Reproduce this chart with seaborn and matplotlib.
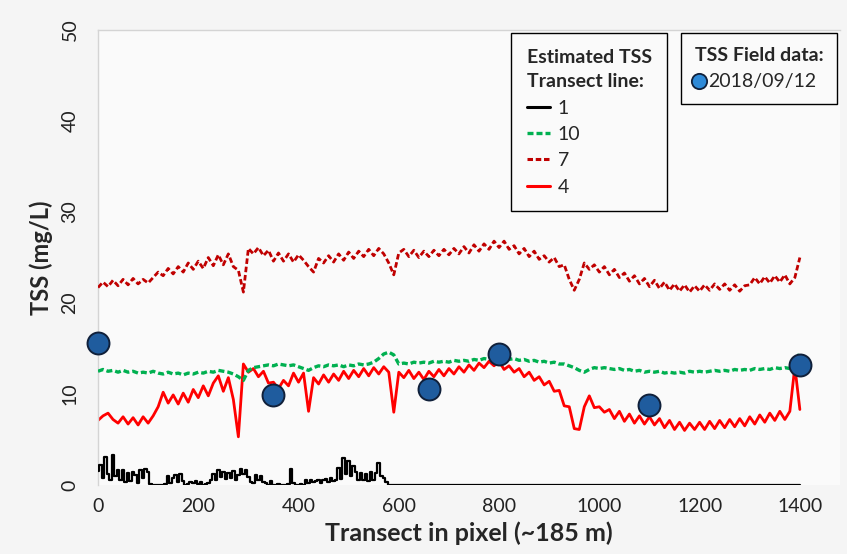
import matplotlib
matplotlib.use("Agg")
import matplotlib.pyplot as plt
import seaborn as sns
import numpy as np
import pandas as pd
from matplotlib.lines import Line2D

# ---------------- data ----------------
x_main = list(range(0, 1401, 10))

tss_line7 = [
    21.7, 22.3, 21.8, 22.5, 21.9, 22.6, 22.0, 22.7, 22.1, 22.6,
    22.2, 22.8, 23.4, 23.0, 23.8, 23.2, 24.0, 23.4, 24.4, 23.7,
    24.6, 23.8, 25.0, 24.1, 25.3, 24.2, 25.4, 24.0, 23.6, 21.2,
    26.0, 25.4, 26.1, 25.2, 25.8, 24.6, 25.5, 24.6, 25.4, 24.5,
    25.3, 24.7, 24.0, 23.4, 24.9, 24.4, 25.2, 24.5, 25.4, 24.7,
    25.6, 24.9, 25.7, 25.1, 25.9, 25.2, 26.0, 25.4, 24.4, 23.1,
    25.5, 25.9, 25.1, 25.8, 25.0, 25.7, 25.1, 25.8, 25.2, 25.9,
    25.3, 26.0, 25.4, 26.2, 25.5, 26.4, 25.7, 26.5, 25.9, 26.8,
    26.1, 26.8, 25.9, 26.3, 25.4, 26.0, 25.1, 25.7, 24.8, 25.2,
    24.5, 25.0, 24.0, 24.2, 22.6, 21.4, 22.6, 24.4, 23.7, 24.2,
    23.4, 24.0, 23.1, 23.7, 22.8, 23.3, 22.4, 23.0, 22.1, 22.7,
    21.8, 22.5, 21.6, 22.3, 21.4, 22.1, 21.3, 22.0, 21.2, 21.9,
    21.3, 22.0, 21.4, 22.1, 21.5, 22.1, 21.4, 22.0, 21.3, 21.9,
    22.0, 22.8, 22.1, 22.9, 22.2, 23.0, 22.3, 23.1, 22.1, 22.8,
    25.0,
]

tss_line10 = [
    12.5, 12.7, 12.5, 12.6, 12.4, 12.6, 12.4, 12.5, 12.3, 12.4,
    12.3, 12.5, 12.3, 12.2, 12.4, 12.2, 12.3, 12.1, 12.3, 12.2,
    12.4, 12.3, 12.5, 12.4, 12.6, 12.5, 12.4, 12.2, 11.9, 11.5,
    12.6, 12.9, 13.0, 13.1, 13.2, 13.1, 13.3, 13.2, 13.1, 13.2,
    13.0, 12.8, 12.6, 12.9, 13.1, 13.0, 13.2, 13.1, 13.2, 13.0,
    13.2, 13.1, 13.3, 13.2, 13.3, 13.5, 13.9, 14.4, 14.6, 14.3,
    13.3, 13.4, 13.3, 13.5, 13.4, 13.5, 13.4, 13.6, 13.5, 13.6,
    13.5, 13.7, 13.6, 13.7, 13.6, 13.8, 13.7, 13.9, 13.8, 14.0,
    13.9, 14.0, 13.8, 13.9, 13.7, 13.8, 13.6, 13.7, 13.5, 13.6,
    13.4, 13.5, 13.3, 13.3, 13.1, 12.9, 12.6, 12.4, 12.7, 12.9,
    12.8, 12.9, 12.8, 12.7, 12.8, 12.6, 12.7, 12.5, 12.6, 12.4,
    12.5, 12.4, 12.5, 12.3, 12.4, 12.3, 12.4, 12.3, 12.5, 12.4,
    12.5, 12.4, 12.5, 12.6, 12.5, 12.6, 12.5, 12.7, 12.6, 12.7,
    12.6, 12.8, 12.7, 12.8, 12.7, 12.9, 12.8, 12.9, 12.8, 13.0,
    14.6,
]

tss_line4 = [
    7.1, 7.6, 7.9, 7.2, 6.8, 7.5, 6.7, 7.4, 6.6, 7.5,
    6.8, 7.6, 8.6, 10.2, 9.0, 9.9, 8.9, 10.1, 9.1, 10.5,
    9.6, 10.9, 9.8, 11.2, 12.0, 10.3, 11.8, 9.4, 5.3, 13.3,
    12.4, 12.8, 11.9, 12.5, 11.2, 11.3, 10.6, 11.5, 10.9, 12.3,
    11.3, 12.3, 8.1, 11.8, 11.1, 12.1, 11.3, 12.2, 11.5, 12.5,
    11.7, 12.6, 11.9, 12.8, 12.0, 12.9, 12.2, 13.0, 12.4, 8.0,
    12.4, 11.8, 12.6, 11.7, 12.4, 11.6, 12.5, 11.9, 12.7, 12.0,
    12.8, 12.2, 13.0, 12.4, 13.2, 12.6, 13.4, 12.9, 13.6, 13.1,
    13.6, 12.7, 13.1, 12.4, 12.8, 11.9, 12.4, 11.5, 11.9, 11.0,
    11.4, 10.3, 10.4, 8.7, 8.6, 6.2, 6.1, 8.6, 9.8, 8.5,
    8.6, 8.0, 8.3, 7.3, 8.1, 7.0, 7.8, 6.8, 7.6, 6.7,
    7.5, 6.6, 7.3, 6.3, 7.1, 6.1, 6.9, 6.0, 6.8, 6.1,
    6.9, 6.1, 7.0, 6.2, 7.1, 6.3, 7.2, 6.4, 7.3, 6.5,
    7.5, 6.7, 7.7, 6.9, 7.9, 7.1, 8.1, 7.2, 8.1, 13.0,
    8.3,
]

x_line1 = list(range(0, 581, 5)) + [1400]
tss_line1 = [
    1.5, 2.2, 0.8, 3.1, 1.2, 0.5, 3.3, 1.0, 1.7, 0.6,
    1.6, 0.3, 1.3, 0.4, 1.4, 1.1, 0.2, 1.7, 0.8, 1.8,
    1.4, 0.1, 0.0, 0.0, 0.0, 0.0, 0.0, 0.1, 1.0, 0.2,
    0.8, 1.1, 0.3, 1.2, 0.4, 0.0, 0.1, 0.3, 0.2, 0.4,
    0.1, 0.3, 0.0, 0.1, 0.2, 0.6, 1.2, 0.5, 1.6, 0.9,
    1.4, 0.7, 1.3, 0.8, 1.5, 0.6, 1.1, 1.8, 1.2, 1.7,
    0.9, 0.3, 0.2, 1.1, 0.5, 1.0, 0.3, 0.2, 0.0, 0.4,
    0.0, 0.0, 0.1, 0.0, 0.0, 0.0, 0.1, 1.8, 0.2, 0.0,
    0.0, 0.1, 0.0, 0.5, 0.2, 0.5, 0.3, 0.4, 0.6, 0.2,
    0.5, 0.7, 0.3, 0.8, 0.4, 0.6, 1.9, 0.7, 3.0, 1.2,
    2.6, 1.0, 2.1, 1.4, 0.6, 1.3, 0.5, 1.2, 0.4, 1.4,
    0.6, 1.3, 2.4, 1.0, 0.8, 0.3, 0.0,
    0.0,
]

field_x = [0, 350, 660, 800, 1100, 1400]
field_tss = [15.6, 9.9, 10.6, 14.4, 8.8, 13.2]

x_ticks = [0, 200, 400, 600, 800, 1000, 1200, 1400]
y_ticks = [0, 10, 20, 30, 40, 50]

# ---------------- style ----------------
sns.set_theme(style="white")
plt.rcParams["font.family"] = ["Lato", "DejaVu Sans"]

fig = plt.figure(figsize=(8.47, 5.54), dpi=100, facecolor="#f5f5f5")
ax = fig.add_axes([0.1157, 0.1245, 0.876, 0.8213])
ax.set_facecolor("#fafafa")

c_red = "#ff0000"
c_dark = "#c00000"
c_green = "#00b050"

sns.lineplot(x=x_main, y=tss_line4, ax=ax, color=c_red, linewidth=2.0, zorder=2)
sns.lineplot(x=x_main, y=tss_line7, ax=ax, color=c_dark, linewidth=2.0, zorder=3)
ax.lines[-1].set_dashes([2.0, 1.0])
sns.lineplot(x=x_main, y=tss_line10, ax=ax, color=c_green, linewidth=2.4, zorder=4)
ax.lines[-1].set_dashes([1.8, 0.9])
sns.lineplot(x=x_line1, y=tss_line1, ax=ax, color="black", linewidth=1.6, zorder=5,
             drawstyle="steps-mid")

sns.scatterplot(x=field_x, y=field_tss, ax=ax, s=250, color="#1f5c9e",
                edgecolor="#10203a", linewidth=1.4, zorder=10, clip_on=False)

ax.set_xlim(0, 1480)
ax.set_ylim(0, 50)
ax.set_xticks(x_ticks)
ax.set_yticks(y_ticks)
ax.tick_params(axis="x", length=0, pad=9, labelsize=14, colors="#222222")
ax.tick_params(axis="y", length=0, pad=14, labelsize=14, colors="#222222",
               labelrotation=90)
for lab in ax.get_yticklabels():
    lab.set_va("center")

ax.set_xlabel("Transect in pixel (~185 m)", fontsize=18, fontweight="bold", labelpad=5)
ax.set_ylabel("TSS (mg/L)", fontsize=17, fontweight="bold", labelpad=6)

for side in ["right", "bottom"]:
    ax.spines[side].set_visible(False)
for side in ["left", "top"]:
    ax.spines[side].set_color("#d4d4d4")
    ax.spines[side].set_linewidth(1.0)
ax.grid(False)

# ---------------- legends ----------------
h1 = [
    Line2D([], [], color="black", linewidth=2.2),
    Line2D([], [], color=c_green, linewidth=2.4, dashes=[1.8, 0.9]),
    Line2D([], [], color=c_dark, linewidth=2.2, dashes=[1.8, 0.9]),
    Line2D([], [], color=c_red, linewidth=2.2),
]
leg1 = ax.legend(h1, ["1", "10", "7", "4"], title="Estimated TSS\nTransect line:",
                 loc="upper left", bbox_to_anchor=(0.5566, 0.9934), borderaxespad=0,
                 fontsize=14, title_fontproperties={"weight": "bold", "size": 14},
                 alignment="left", frameon=True, fancybox=False, edgecolor="black",
                 facecolor="#fafafa", framealpha=1, handlelength=1.2, handletextpad=0.4,
                 labelspacing=0.48, borderpad=0.8)
leg1.get_title().set_linespacing(1.55)
leg1.get_frame().set_linewidth(1.0)
ax.add_artist(leg1)

h2 = [Line2D([], [], linestyle="none", marker="o", markersize=11,
             markerfacecolor="#2e8ad8", markeredgecolor="#10203a", markeredgewidth=1.3)]
leg2 = ax.legend(h2, ["2018/09/12"], title="TSS Field data:",
                 loc="upper left", bbox_to_anchor=(0.7857, 0.9934), borderaxespad=0,
                 fontsize=14, title_fontproperties={"weight": "bold", "size": 14},
                 alignment="left", frameon=True, fancybox=False, edgecolor="black",
                 facecolor="#fafafa", framealpha=1, handlelength=0.5, handletextpad=0.2,
                 borderpad=0.7)
leg2.get_frame().set_linewidth(1.0)

fig.savefig("out.png", dpi=100, facecolor=fig.get_facecolor())
